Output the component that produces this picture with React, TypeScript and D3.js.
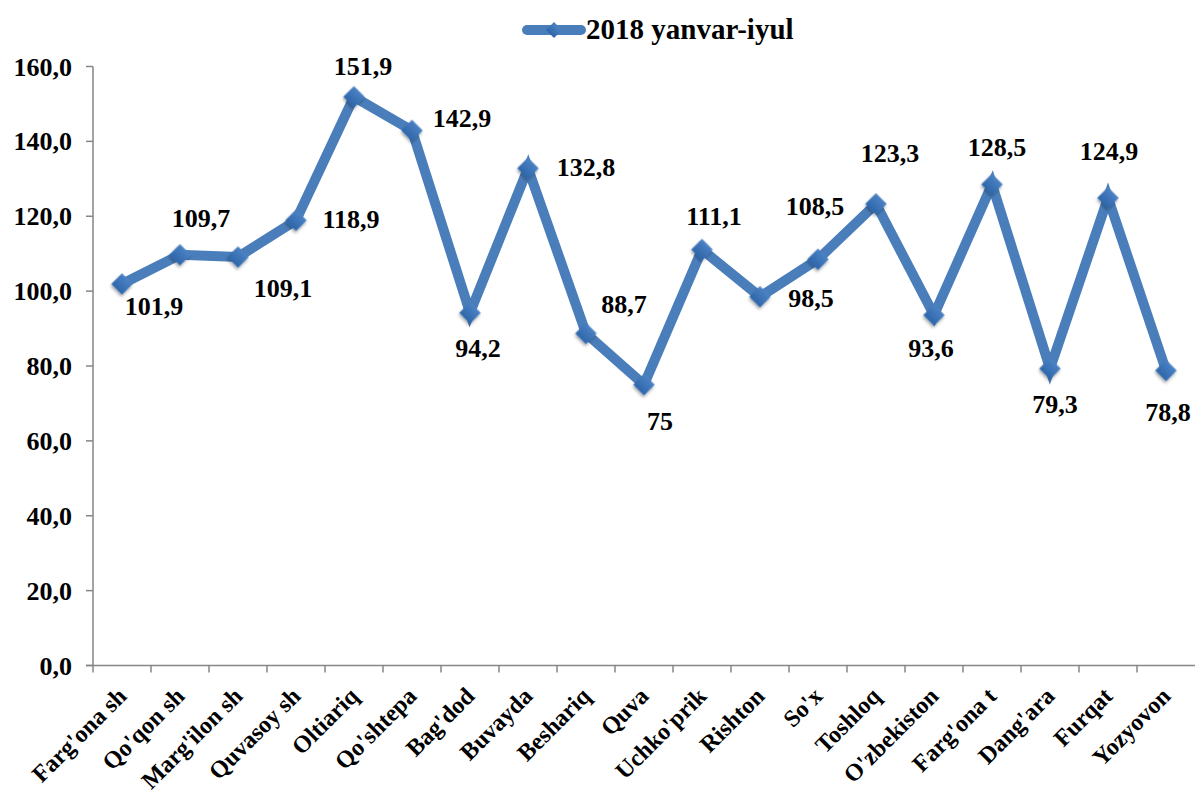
import React from 'react';
import * as d3 from 'd3';

const width = 1195;
const height = 796;
const margin = { top: 66.5, right: 0, bottom: 130, left: 93 };

// chart data
const categories = [
  "Farg'ona sh", "Qo'qon sh", "Marg'ilon sh", 'Quvasoy sh', 'Oltiariq',
  "Qo'shtepa", "Bag'dod", 'Buvayda', 'Beshariq', 'Quva', "Uchko'prik",
  'Rishton', "So'x", 'Toshloq', "O'zbekiston", "Farg'ona t", "Dang'ara",
  'Furqat', 'Yozyovon'
];
const values = [
  101.9, 109.7, 109.1, 118.9, 151.9, 142.9, 94.2, 132.8, 88.7, 75, 111.1,
  98.5, 108.5, 123.3, 93.6, 128.5, 79.3, 124.9, 78.8
];
const valueLabels = [
  '101,9', '109,7', '109,1', '118,9', '151,9', '142,9', '94,2', '132,8', '88,7',
  '75', '111,1', '98,5', '108,5', '123,3', '93,6', '128,5', '79,3', '124,9', '78,8'
];
const yTicks = [0, 20, 40, 60, 80, 100, 120, 140, 160];
const seriesName = '2018 yanvar-iyul';

// where each data label sits relative to its point (centre x, baseline y)
const labelOffsets: [number, number][] = [
  [32, 31], [21, -28], [45, 40], [55, 8], [9, -22], [50, -4], [8, 44],
  [58, 8], [38, -20], [16, 45], [12, -25], [51, 10], [-3, -44], [14, -42],
  [-3, 42], [5, -28], [5, 44], [1, -38], [2, 51]
];

const font = "'Liberation Serif', 'Times New Roman', serif";
const lineColor = '#4a7ebb';
const axisColor = '#868686';

const App = () => {
  const y0 = 665.5;
  const yScale = d3.scaleLinear().domain([0, 160]).range([y0, margin.top]);
  const xScale = d3
    .scaleBand<string>()
    .domain(categories)
    .range([margin.left, width - margin.right]);
  const cx = (c: string) => (xScale(c) as number) + xScale.bandwidth() / 2;

  const points = categories.map((c, i) => [cx(c), yScale(values[i])] as [number, number]);
  const linePath = d3.line()(points) as string;
  const diamond = d3.symbol().type(d3.symbolSquare).size(230)() as string;

  return (
    <svg
      width={width}
      height={height}
      style={{ position: 'absolute', left: 0, top: 0, background: 'white' }}
      fontFamily={font}
      fontWeight="bold"
    >
      <defs>
        <filter id="shadow" x="-50%" y="-50%" width="200%" height="200%">
          <feGaussianBlur in="SourceAlpha" stdDeviation="1.5" />
          <feOffset dx="1" dy="2" result="b" />
          <feComponentTransfer>
            <feFuncA type="linear" slope="0.35" />
          </feComponentTransfer>
          <feMerge>
            <feMergeNode />
            <feMergeNode in="SourceGraphic" />
          </feMerge>
        </filter>
        <linearGradient id="mk" x1="0" y1="0" x2="0" y2="1">
          <stop offset="0" stopColor="#4a82c4" />
          <stop offset="1" stopColor="#2f66aa" />
        </linearGradient>
      </defs>

      {/* legend */}
      <g>
        <line x1={527} x2={581} y1={30} y2={30} stroke={lineColor} strokeWidth={10} strokeLinecap="round" />
        <path d={diamond} transform="translate(554,30) rotate(45) scale(0.75)" fill="url(#mk)" />
        <text x={586} y={39} fontSize={29}>{seriesName}</text>
      </g>

      {/* y axis */}
      <g>
        <line x1={margin.left} x2={margin.left} y1={margin.top} y2={y0} stroke={axisColor} strokeWidth={1.5} />
        {yTicks.map(t => (
          <g key={t} transform={`translate(0,${yScale(t)})`}>
            <line x1={86} x2={margin.left} stroke={axisColor} strokeWidth={1.5} />
            <text x={72} y={9} textAnchor="end" fontSize={26}>
              {d3.format('.1f')(t).replace('.', ',')}
            </text>
          </g>
        ))}
      </g>

      {/* x axis */}
      <g>
        <line x1={86} x2={width} y1={y0} y2={y0} stroke={axisColor} strokeWidth={1.5} />
        {categories.map(c => (
          <line key={c} x1={xScale(c)} x2={xScale(c)} y1={y0} y2={y0 + 7} stroke={axisColor} strokeWidth={1.5} />
        ))}
        {categories.map(c => (
          <text
            key={c}
            transform={`translate(${cx(c) + 6},${y0 + 32}) rotate(-45)`}
            textAnchor="end"
            fontSize={24}
          >
            {c}
          </text>
        ))}
      </g>

      {/* series */}
      <path d={linePath} fill="none" stroke={lineColor} strokeWidth={10} strokeLinejoin="miter" />
      {points.map(([px, py], i) => (
        <path
          key={i}
          d={diamond}
          transform={`translate(${px},${py}) rotate(45)`}
          fill="url(#mk)"
          filter="url(#shadow)"
        />
      ))}

      {/* data labels */}
      {points.map(([px, py], i) => (
        <text
          key={i}
          x={px + labelOffsets[i][0]}
          y={py + labelOffsets[i][1]}
          textAnchor="middle"
          fontSize={26}
        >
          {valueLabels[i]}
        </text>
      ))}
    </svg>
  );
};

export default App;
